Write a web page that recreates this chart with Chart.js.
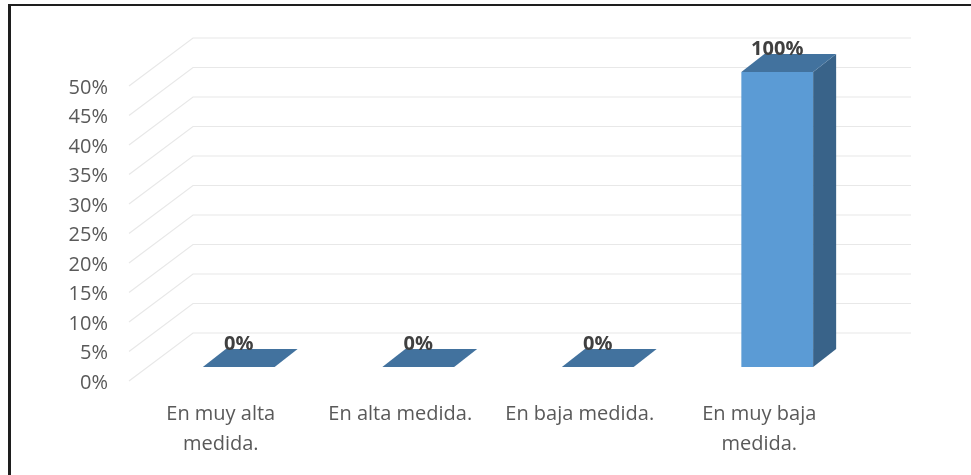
<!DOCTYPE html>
<html>
<head>
<meta charset="utf-8">
<script src="https://cdn.jsdelivr.net/npm/chart.js@4.4.1/dist/chart.umd.min.js"></script>
<style>
  html, body { margin: 0; padding: 0; background: #fff; }
  #wrap { width: 971px; height: 475px; position: relative; }
</style>
</head>
<body>
<div id="wrap"><canvas id="grafico" width="971" height="475"></canvas></div>
<script>
// datos del grafico
const categorias = [['En muy alta', 'medida.'], 'En alta medida.', 'En baja medida.', ['En muy baja', 'medida.']];
const porcentajes = [0, 0, 0, 100];
const ejeMin = 0;
const ejeMax = 50;
const ejePaso = 5;

// profundidad 3D
const PARED_DX = 62, PARED_DY = -48;   // fondo de la pared
const BARRA_DX = 18, BARRA_DY = -14;   // posicion de la barra dentro del piso
const CARA_DX = 23, CARA_DY = -18;     // profundidad de la barra

const fuente = "'Open Sans', 'DejaVu Sans', sans-serif";

// Plugin: marco, rejilla en perspectiva, caras 3D y etiquetas
const efecto3D = {
    id: 'efecto3D',
    beforeDatasetsDraw(chart) {
        const ctx = chart.ctx;
        const area = chart.chartArea;
        const y = chart.scales.y;

        // rejilla (pared izquierda + fondo)
        ctx.save();
        ctx.strokeStyle = '#e8e8e8';
        ctx.lineWidth = 1.2;
        y.ticks.forEach(t => {
            const py = y.getPixelForValue(t.value);
            ctx.beginPath();
            ctx.moveTo(area.left - 2, py);
            ctx.lineTo(area.left + PARED_DX, py + PARED_DY);
            ctx.lineTo(area.right + PARED_DX, py + PARED_DY);
            ctx.stroke();
        });
        ctx.restore();

        // mover las barras hacia el fondo
        ctx.save();
        ctx.translate(BARRA_DX, BARRA_DY);
    },
    afterDatasetsDraw(chart) {
        const ctx = chart.ctx;
        const area = chart.chartArea;
        const meta = chart.getDatasetMeta(0);

        meta.data.forEach((barra, i) => {
            const p = barra.getProps(['x', 'y', 'base', 'width'], true);
            const izq = p.x - p.width / 2;
            const der = p.x + p.width / 2;
            const arriba = Math.max(p.y, area.top);

            // cara lateral
            ctx.fillStyle = '#396389';
            ctx.beginPath();
            ctx.moveTo(der, arriba);
            ctx.lineTo(der + CARA_DX, arriba + CARA_DY);
            ctx.lineTo(der + CARA_DX, p.base + CARA_DY);
            ctx.lineTo(der, p.base);
            ctx.closePath();
            ctx.fill();

            // cara superior
            ctx.fillStyle = '#42729e';
            ctx.beginPath();
            ctx.moveTo(izq, arriba);
            ctx.lineTo(der, arriba);
            ctx.lineTo(der + CARA_DX, arriba + CARA_DY);
            ctx.lineTo(izq + CARA_DX, arriba + CARA_DY);
            ctx.closePath();
            ctx.fill();

            // etiqueta del valor
            ctx.fillStyle = '#404040';
            ctx.font = 'bold 20px ' + fuente;
            ctx.textAlign = 'center';
            ctx.textBaseline = 'alphabetic';
            ctx.fillText(porcentajes[i] + '%', p.x, arriba + CARA_DY + 1);
        });

        ctx.restore();
    },
    afterDraw(chart) {
        // marco del grafico (solo izquierda y arriba visibles)
        const ctx = chart.ctx;
        ctx.save();
        ctx.fillStyle = '#1e1e1e';
        ctx.fillRect(8, 4, 3, chart.height - 4);
        ctx.fillRect(8, 4, chart.width - 8, 2);
        ctx.restore();
    }
};

const ctx = document.getElementById('grafico').getContext('2d');
new Chart(ctx, {
    type: 'bar',
    data: {
        labels: categorias,
        datasets: [{
            data: porcentajes,
            backgroundColor: '#5b9bd5',
            borderWidth: 0,
            barPercentage: 0.4,
            categoryPercentage: 1,
            clip: 0
        }]
    },
    options: {
        responsive: false,
        animation: false,
        layout: { padding: { top: 86, right: 122, bottom: 0, left: 0 } },
        plugins: {
            legend: { display: false },
            tooltip: { enabled: false }
        },
        scales: {
            x: {
                grid: { display: false, drawTicks: false },
                border: { display: false },
                ticks: {
                    color: '#595959',
                    font: { family: fuente, size: 20, lineHeight: 1.5 },
                    padding: 18,
                    maxRotation: 0,
                    autoSkip: false
                },
                afterFit: s => { s.height = 94; }
            },
            y: {
                min: ejeMin,
                max: ejeMax,
                grid: { display: false, drawTicks: false },
                border: { display: false },
                ticks: {
                    stepSize: ejePaso,
                    color: '#595959',
                    font: { family: fuente, size: 20 },
                    padding: 23,
                    labelOffset: 2,
                    callback: v => v + '%'
                },
                afterFit: s => { s.width = 131; }
            }
        }
    },
    plugins: [efecto3D]
});
</script>
</body>
</html>
